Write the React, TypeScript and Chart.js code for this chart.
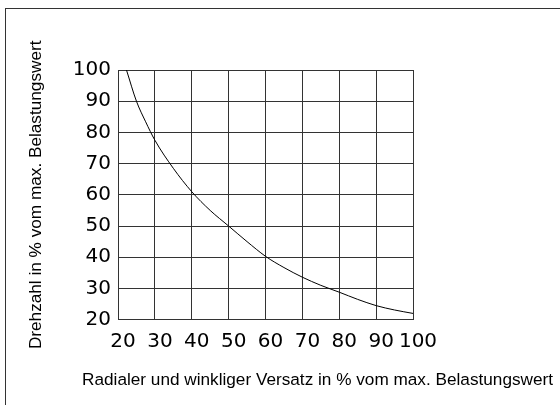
import React, { useEffect, useRef } from "react";
import { Chart, registerables } from "chart.js";

Chart.register(...registerables);

const xTicks = [20, 30, 40, 50, 60, 70, 80, 90, 100];
const yTicks = [20, 30, 40, 50, 60, 70, 80, 90, 100];
const offsetValues = [22.3, 25, 27.5, 30, 35, 40, 45, 50, 55, 60, 65, 70, 75, 80, 85, 90, 95, 100];
const speedValues = [100, 90, 83.4, 77.5, 68.5, 61, 55, 50, 45, 40.3, 36.7, 33.6, 31, 28.8, 26.5, 24.5, 23.1, 22];
const yTitle = "Drehzahl in % vom max. Belastungswert";
const xTitle = "Radialer und winkliger Versatz in % vom max. Belastungswert";

export default function App() {
  const ref = useRef<HTMLCanvasElement | null>(null);

  useEffect(() => {
    if (!ref.current) return;
    const tickFont = { family: "'DejaVu Sans', sans-serif", size: 20 };
    const titleFont = { family: "'Liberation Sans', Arial, sans-serif", size: 17.2 };
    const gridColor = "#333333";
    const chart = new Chart(ref.current, {
      type: "line",
      data: {
        datasets: [
          {
            data: offsetValues.map((x, i) => ({ x, y: speedValues[i] })),
            borderColor: "#000000",
            borderWidth: 1,
            pointRadius: 0,
            fill: false,
            cubicInterpolationMode: "monotone",
          },
        ],
      },
      options: {
        animation: false,
        responsive: false,
        events: [],
        layout: { padding: { left: 0, top: 70, right: 7, bottom: 0 } },
        plugins: {
          legend: { display: false },
          tooltip: { enabled: false },
          title: {
            display: true,
            text: xTitle,
            position: "bottom",
            align: "end",
            color: "#000000",
            font: { ...titleFont, weight: "normal" },
            padding: { top: 6, bottom: 14.7 },
          },
        },
        scales: {
          x: {
            type: "linear",
            min: xTicks[0],
            max: xTicks[xTicks.length - 1],
            afterBuildTicks: (s: any) => {
              s.ticks = xTicks.map((v) => ({ value: v }));
            },
            ticks: {
              color: "#000000",
              font: tickFont,
              padding: 10,
              labelOffset: 5,
              maxRotation: 0,
              autoSkip: false,
            },
            grid: { color: gridColor, lineWidth: 1, drawTicks: false },
            border: { color: gridColor, width: 1 },
          },
          y: {
            type: "linear",
            min: yTicks[0],
            max: yTicks[yTicks.length - 1],
            afterBuildTicks: (s: any) => {
              s.ticks = yTicks.map((v) => ({ value: v }));
            },
            afterFit: (s: any) => {
              s.width = 118;
            },
            ticks: {
              color: "#000000",
              font: tickFont,
              padding: 7,
              autoSkip: false,
            },
            grid: { color: gridColor, lineWidth: 1, drawTicks: false },
            border: { color: gridColor, width: 1 },
            title: {
              display: true,
              text: yTitle,
              color: "#000000",
              font: titleFont,
              padding: { top: 25.5, bottom: 0 },
            },
          },
          spacer: {
            type: "linear",
            position: "right",
            display: true,
            afterFit: (s: any) => {
              s.width = 140;
            },
            ticks: { display: false },
            grid: { display: false, drawTicks: false },
            border: { display: false },
          },
        },
      },
    });
    return () => chart.destroy();
  }, []);

  return (
    <div style={{ position: "fixed", left: 0, top: 0, width: 560, height: 405, overflow: "hidden", background: "#ffffff" }}>
      <div
        style={{
          position: "absolute",
          left: 5,
          top: 8,
          width: 600,
          height: 500,
          borderLeft: "1px solid #333333",
          borderTop: "1px solid #333333",
        }}
      />
      <canvas ref={ref} width={560} height={405} style={{ position: "absolute", left: 0, top: 0 }} />
    </div>
  );
}
